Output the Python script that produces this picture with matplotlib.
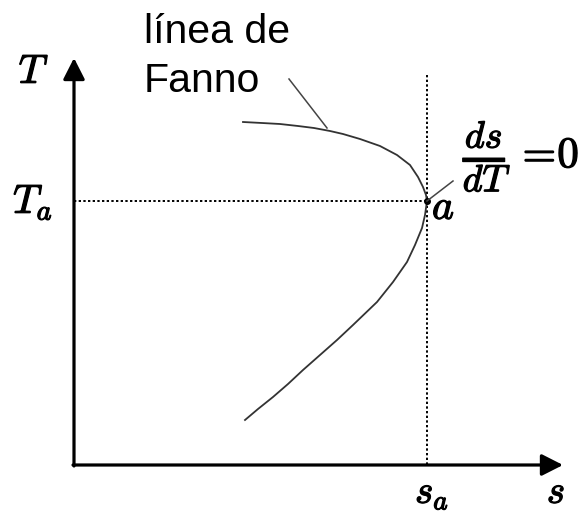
import matplotlib
matplotlib.use("Agg")
import matplotlib.pyplot as plt
import matplotlib.patheffects as pe

plt.rcParams["mathtext.fontset"] = "cm"

# Fanno line, entropy s vs temperature T (drawing units, T grows downward on screen)
s_curve = [243, 262, 280, 298, 314, 330, 343, 360, 380, 397, 410, 418, 423, 426, 427,
           426, 425, 422, 415, 407, 393, 377, 353, 337, 320, 303, 288, 273, 258, 245]
T_curve = [122, 123, 124, 126, 128, 131, 134, 139, 146, 155, 165, 177, 187, 195, 201,
           208, 215, 228, 245, 262, 282, 302, 325, 340, 355, 370, 384, 397, 409, 420]

# state a, where ds/dT = 0
s_a = 427
T_a = 201

# axes frame
origin = (74, 465)
s_max = 563
T_max = 58

fig = plt.figure(figsize=(5.88, 5.16), dpi=100)
ax = fig.add_axes([0, 0, 1, 1])
ax.set_xlim(0, 588)
ax.set_ylim(516, 0)
ax.axis("off")

# axes with arrowheads
arrow = dict(arrowstyle="-|>,head_length=0.65,head_width=0.33", color="black",
             lw=2.3, mutation_scale=20, shrinkA=0, shrinkB=0)
ax.annotate("", xy=(origin[0], T_max), xytext=(origin[0], origin[1] + 1), arrowprops=arrow)
ax.annotate("", xy=(s_max, origin[1]), xytext=(origin[0] - 1, origin[1]), arrowprops=arrow)

# dotted guides through a
ax.plot([origin[0], s_a], [T_a, T_a], color="black", lw=1.4, ls=(0, (1.2, 1.2)))
ax.plot([s_a, s_a], [75, origin[1]], color="black", lw=1.4, ls=(0, (1.2, 1.2)))

# the curve
ax.plot(s_curve, T_curve, color="#333333", lw=1.3, solid_joinstyle="round")
ax.plot([s_a], [T_a], "o", color="black", ms=4)

# leaders
ax.plot([289, 327], [79, 128], color="#444444", lw=1.1)
ax.plot([s_a, 453], [T_a, 181], color="#444444", lw=1.1)

# labels
ax.text(144, 43, "línea de", family="Liberation Sans", fontsize=29.5,
        ha="left", va="baseline")
ax.text(144, 92, "Fanno", family="Liberation Sans", fontsize=29.5,
        ha="left", va="baseline")

bold = [pe.withStroke(linewidth=0.9, foreground="black")]
math_labels = [
    (34, 83, "$T$", 29, "center"),
    (33, 213, "$T_a$", 29, "center"),
    (432, 219, "$a$", 30, "left"),
    (432, 503, "$s_a$", 28, "center"),
    (556, 503, "$s$", 28, "center"),
]
for x, y, txt, size, ha in math_labels:
    ax.text(x, y, txt, fontsize=size, ha=ha, va="baseline", path_effects=bold)

ax.text(487, 157, r"$\frac{ds}{dT}$", fontsize=39, ha="center", va="center",
        path_effects=bold)
ax.text(515, 155, "$=\\!0$", fontsize=31, ha="left", va="center",
        path_effects=bold)

fig.savefig("out.png", dpi=100)
